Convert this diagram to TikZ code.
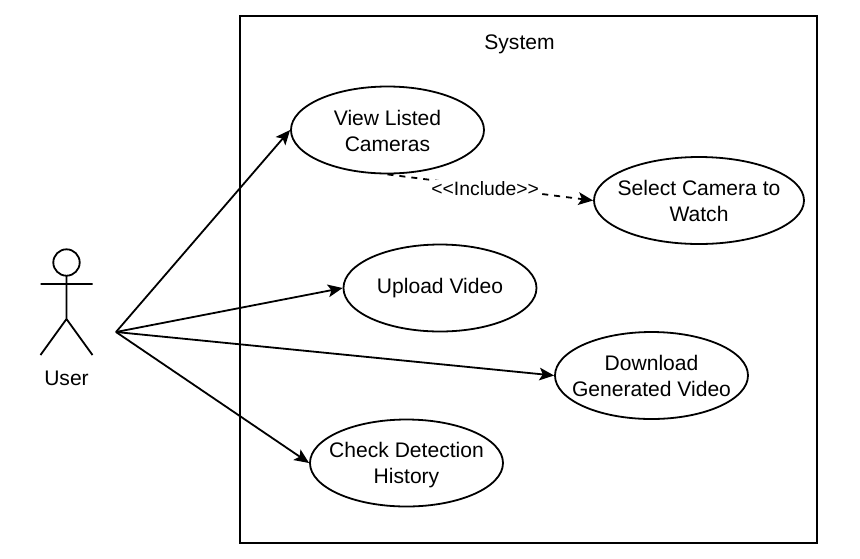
\documentclass[tikz,border=0pt]{standalone}
\usepackage{fontspec}
\setmainfont{Liberation Sans}
\usetikzlibrary{arrows.meta,shapes.geometric}
\newcommand{\topgap}[1]{\rule{0pt}{#1}}
\tikzset{
 x=0.75pt,y=-0.75pt,
 usecase/.style={draw=black,line width=1.35pt,fill=white,ellipse,inner sep=-25pt,align=center,font=\fontsize{15.8}{19.5}\selectfont,minimum width=193*0.75pt,minimum height=87*0.75pt},
 flow/.style={line width=1.35pt,-{Stealth[length=11pt,width=9.5pt,inset=2.5pt]}},
 part/.style={line width=1.35pt},
}
\begin{document}
\begin{tikzpicture}
\useasboundingbox (0,0) rectangle (860,558);
\fill[white] (0,0) rectangle (860,558);
\node[draw=black,line width=1.35pt,minimum width=576.5*0.75pt,minimum height=526.5*0.75pt,inner sep=0pt] (system) at (528.5,279.5) {};
\node[font=\fontsize{15.8}{19}\selectfont] (systemlabel) at (519.5,44) {System};
\node[usecase] (view) at (387.5,130) {\topgap{13pt}View Listed\\Cameras};
\node[usecase,minimum width=210*0.75pt] (select) at (699,200.5) {Select Camera to\\Watch};
\node[usecase] (upload) at (440,288) {Upload Video};
\node[usecase] (download) at (651.5,375.5) {Download\\Generated Video};
\node[usecase] (history) at (406.5,463) {\topgap{14.5pt}Check Detection\\History};
\coordinate (hand) at (116,332);
\draw[part] (66.5,262.5) circle (13.2);
\draw[part] (66.5,275.7) -- (66.5,319) (40.5,284) -- (92.5,284) (40.5,355) -- (66.5,319) -- (92.5,355);
\node[font=\fontsize{15.8}{19}\selectfont] (user) at (66.5,378) {User};
\draw[flow] (hand) -- (view.west);
\draw[flow] (hand) -- (upload.west);
\draw[flow] (hand) -- (download.west);
\draw[flow] (hand) -- (history.west);
\draw[flow,dash pattern=on 4.5pt off 4.5pt] (view.south) -- node[fill=white,inner sep=1pt,font=\fontsize{14.5}{17}\selectfont,pos=0.475,yshift=-1pt] (inc) {<{}<Include>{}>} (select.west);
\end{tikzpicture}
\end{document}
